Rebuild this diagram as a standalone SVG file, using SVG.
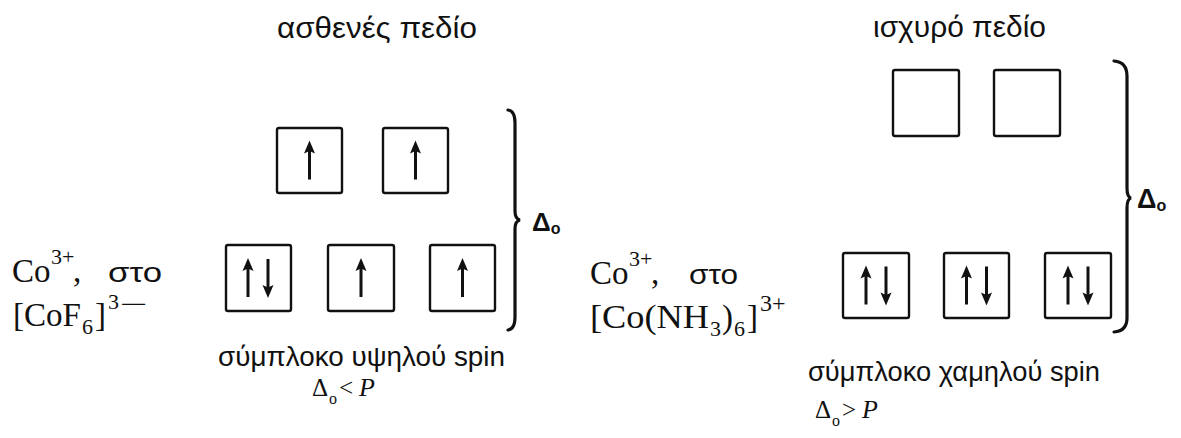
<svg xmlns="http://www.w3.org/2000/svg" width="1181" height="438" viewBox="0 0 1181 438">
<style>
.box{fill:none;stroke:#111;stroke-width:2.4}
.shaft{stroke:#111;stroke-width:3;fill:none}
.head{fill:#111}
.brace{fill:none;stroke:#111;stroke-width:3.2;stroke-linecap:round}
.sans{font-family:"Liberation Sans",Arial,sans-serif;fill:#111}
.serif{font-family:"Liberation Serif","Times New Roman",serif;fill:#111}
.title{font-size:30px}
.delta{font-family:"Liberation Sans",Arial,sans-serif;font-weight:bold;fill:#111}
.big{font-size:33px}
.sm{font-size:22px}
</style>
<defs>
<g id="up"><line class="shaft" x1="0" y1="-10" x2="0" y2="19"/><polygon class="head" points="0,-20 -5.5,-7 0,-9.5 5.5,-7"/></g>
<g id="down"><line class="shaft" x1="0" y1="-19" x2="0" y2="10"/><polygon class="head" points="0,20 -5.5,7 0,9.5 5.5,7"/></g>
</defs>
<rect width="1181" height="438" fill="#fff"/>

<g id="left-title"><text class="sans title" x="277" y="38" textLength="200" lengthAdjust="spacingAndGlyphs">ασθενές πεδίο</text></g>
<g id="right-title"><text class="sans title" x="873" y="37" textLength="173" lengthAdjust="spacingAndGlyphs">ισχυρό πεδίο</text></g>

<g id="left-eg">
<rect class="box" x="277" y="128" width="65" height="65" rx="2"/><use href="#up" x="309.5" y="160.5"/>
<rect class="box" x="383" y="128" width="65" height="65" rx="2"/><use href="#up" x="415.5" y="160.5"/>
</g>
<g id="left-t2g">
<rect class="box" x="226" y="245" width="65" height="66" rx="2"/><use href="#up" x="248" y="278"/><use href="#down" x="268" y="278"/>
<rect class="box" x="328" y="245" width="66" height="66" rx="2"/><use href="#up" x="361" y="278"/>
<rect class="box" x="430" y="245" width="65" height="66" rx="2"/><use href="#up" x="462.5" y="278"/>
</g>
<g id="right-eg">
<rect class="box" x="893" y="70" width="66" height="66" rx="2"/>
<rect class="box" x="994" y="70" width="66" height="66" rx="2"/>
</g>
<g id="right-t2g">
<rect class="box" x="843" y="253" width="66" height="65" rx="2"/><use href="#up" x="866" y="285.5"/><use href="#down" x="886" y="285.5"/>
<rect class="box" x="944" y="253" width="65" height="65" rx="2"/><use href="#up" x="966.5" y="285.5"/><use href="#down" x="986.5" y="285.5"/>
<rect class="box" x="1045" y="253" width="66" height="65" rx="2"/><use href="#up" x="1068" y="285.5"/><use href="#down" x="1088" y="285.5"/>
</g>

<g id="connectors">
<path class="brace" d="M508,110 Q515,111 515,123 L515,211 Q515,219 520,220 Q515,221 515,229 L515,317 Q515,329 508,330"/>
<path class="brace" d="M1114,61 Q1127,62 1127,76 L1127,188 Q1127,197 1131,198 Q1127,199 1127,208 L1127,318 Q1127,331 1114,332"/>
</g>

<g id="left-delta"><text class="delta" x="532" y="231" font-size="26">Δ<tspan font-size="16" dy="3">o</tspan></text></g>
<g id="right-delta"><text class="delta" x="1137" y="208" font-size="27">Δ<tspan font-size="16" dy="3">o</tspan></text></g>

<g id="left-label">
<text class="serif big" x="12" y="282">Co</text>
<text class="serif sm" x="51" y="264">3+</text>
<text class="serif big" x="73" y="282">,</text>
<text class="sans" x="108" y="282" font-size="28" textLength="54" lengthAdjust="spacingAndGlyphs">στο</text>
<text class="serif big" x="13" y="326" textLength="68" lengthAdjust="spacingAndGlyphs">[CoF</text>
<text class="serif sm" x="82" y="334">6</text>
<text class="serif big" x="95" y="326">]</text>
<text class="serif sm" x="108" y="309">3</text>
<text class="serif" x="120" y="313" font-size="26" textLength="28" lengthAdjust="spacingAndGlyphs">−</text>
</g>
<g id="right-label">
<text class="serif big" x="590" y="284">Co</text>
<text class="serif sm" x="629" y="266">3+</text>
<text class="serif big" x="651" y="284">,</text>
<text class="sans" x="689" y="284" font-size="28" textLength="49" lengthAdjust="spacingAndGlyphs">στο</text>
<text class="serif big" x="590" y="328" textLength="119" lengthAdjust="spacingAndGlyphs">[Co(NH</text>
<text class="serif sm" x="710" y="336">3</text>
<text class="serif big" x="722" y="328">)</text>
<text class="serif sm" x="734" y="336">6</text>
<text class="serif big" x="747" y="328">]</text>
<text class="serif" x="760" y="311" font-size="24">3+</text>
</g>

<g id="left-bottom">
<text class="sans" x="218" y="366" font-size="27" textLength="287" lengthAdjust="spacingAndGlyphs">σύμπλοκο υψηλού spin</text>
<text class="serif" x="312" y="396" font-size="25">Δ</text>
<text class="serif" x="329" y="404" font-size="16">o</text>
<text class="serif" x="339" y="396" font-size="25">&lt;</text>
<text class="serif" x="359" y="396" font-size="26" font-style="italic">P</text>
</g>
<g id="right-bottom">
<text class="sans" x="808" y="381" font-size="27" textLength="292" lengthAdjust="spacingAndGlyphs">σύμπλοκο χαμηλού spin</text>
<text class="serif" x="815" y="418" font-size="25">Δ</text>
<text class="serif" x="832" y="426" font-size="16">o</text>
<text class="serif" x="842" y="418" font-size="25">&gt;</text>
<text class="serif" x="862" y="418" font-size="26" font-style="italic">P</text>
</g>
</svg>
